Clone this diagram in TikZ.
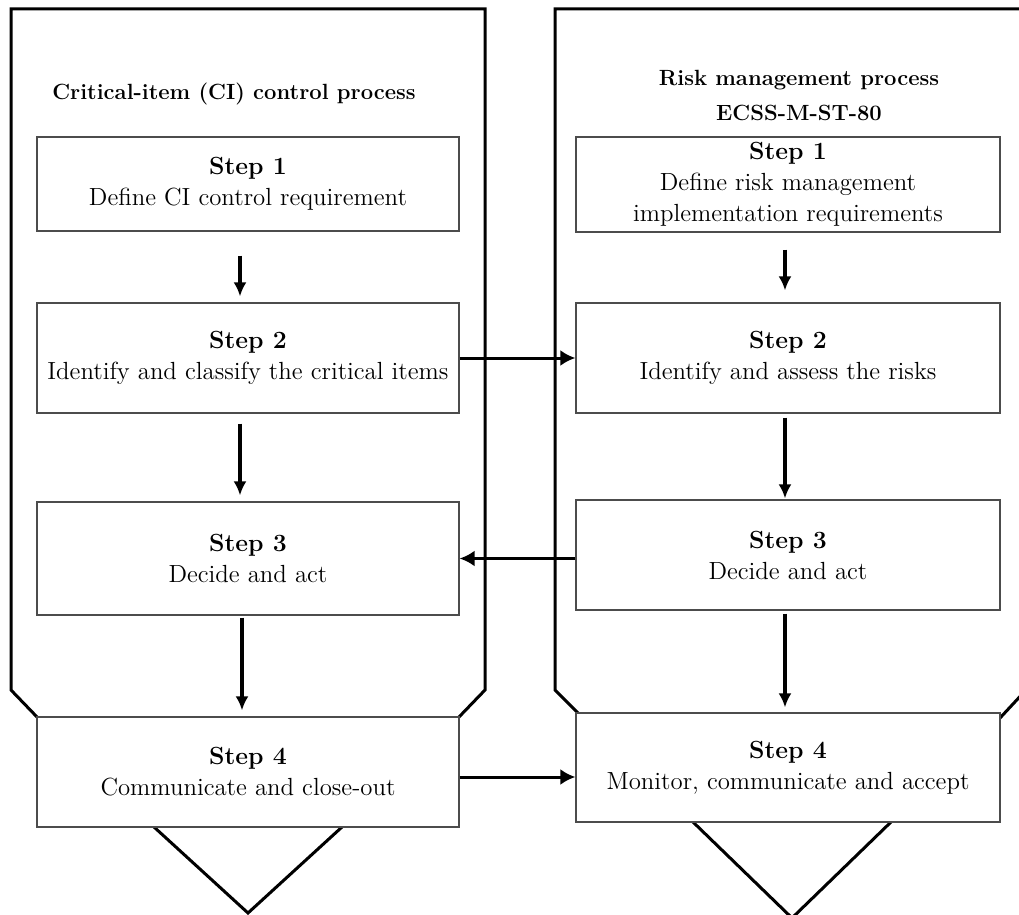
\documentclass[tikz,border=0pt]{standalone}
\usetikzlibrary{positioning}
\usetikzlibrary{arrows.meta}

\tikzset{
  stepbox/.style = {draw = black!70, line width = 0.6pt, fill = white, align = center, inner sep = 0pt, font = \fontsize{12.4}{15.5}\selectfont},
  headtext/.style = {align = center, inner sep = 0pt, font = \fontsize{11}{17.5}\selectfont\bfseries},
  frame/.style = {black, line width = 1.5pt, line join = miter},
  downflow/.style = {black, line width = 2pt, -{Latex[length = 7pt, width = 6.5pt]}},
  sideflow/.style = {black, line width = 1.5pt, -{Latex[length = 7.5pt, width = 8pt]}}
}

\begin{document}
\begin{tikzpicture}[x = 0.5pt, y = -0.5pt]
					\useasboundingbox (0, 0) rectangle (1019, 915);
					\clip (0, 0) rectangle (1019, 915);
					% outer process shapes
					\draw [frame] (37, 717) -- (11, 690) -- (11, 9) -- (485, 9) -- (485, 690) -- (459, 717);
					\draw [frame] (154, 827) -- (248, 913) -- (342, 827);
					\draw [frame] (578, 713) -- (555, 690) -- (555, 9) -- (1026, 9) -- (1026, 690) -- (1000, 718);
					\draw [frame] (693, 822) -- (792, 918) -- (891, 822);
					% titles
					\node [headtext] (lhead) at (234, 94) {Critical-item (CI) control process};
					\node [headtext] (rhead) at (799, 95) {Risk management process\\ECSS-M-ST-80};
					% left steps
					\node [stepbox, minimum width = 211pt, minimum height = 47pt] (L1) at (248, 184) {\textbf{Step 1}\\Define CI control requirement};
					\node [stepbox, minimum width = 211pt, minimum height = 55pt] (L2) at (248, 358) {\textbf{Step 2}\\Identify and classify the critical items};
					\node [stepbox, minimum width = 211pt, minimum height = 56.5pt] (L3) at (248, 558.5) {\textbf{Step 3}\\Decide and act};
					\node [stepbox, minimum width = 211pt, minimum height = 55pt] (L4) at (248, 772) {\textbf{Step 4}\\Communicate and close-out};
					% right steps
					\node [stepbox, minimum width = 212pt, minimum height = 47.5pt] (R1) at (788, 184.5) {\textbf{Step 1}\\Define risk management\\implementation requirements};
					\node [stepbox, minimum width = 212pt, minimum height = 55pt] (R2) at (788, 358) {\textbf{Step 2}\\Identify and assess the risks};
					\node [stepbox, minimum width = 212pt, minimum height = 55pt] (R3) at (788, 555) {\textbf{Step 3}\\Decide and act};
					\node [stepbox, minimum width = 212pt, minimum height = 54.5pt] (R4) at (788, 767.5) {\textbf{Step 4}\\Monitor, communicate and accept};
					% flow down each process
					\draw [downflow, shorten < = 12pt, shorten > = 3pt] ([xshift = -4pt]L1.south) -- ([xshift = -4pt]L2.north);
					\draw [downflow, shorten < = 5pt, shorten > = 3pt] ([xshift = -4pt]L2.south) -- ([xshift = -4pt]L3.north);
					\draw [downflow, shorten < = 1pt, shorten > = 3pt] ([xshift = -3pt]L3.south) -- ([xshift = -3pt]L4.north);
					\draw [downflow, shorten < = 8.5pt, shorten > = 6pt] ([xshift = -1.5pt]R1.south) -- ([xshift = -1.5pt]R2.north);
					\draw [downflow, shorten < = 2pt, shorten > = 0.5pt] ([xshift = -1.5pt]R2.south) -- ([xshift = -1.5pt]R3.north);
					\draw [downflow, shorten < = 1.5pt, shorten > = 2.5pt] ([xshift = -1.5pt]R3.south) -- ([xshift = -1.5pt]R4.north);
					% links between the processes
					\draw [sideflow] (L2.east) -- (R2.west);
					\draw [sideflow] (R3.west |- L3.east) -- (L3.east);
					\draw [sideflow] ([yshift = -2.5pt]L4.east) -- ([yshift = -2.5pt]L4.east -| R4.west);
				\end{tikzpicture}
\end{document}
